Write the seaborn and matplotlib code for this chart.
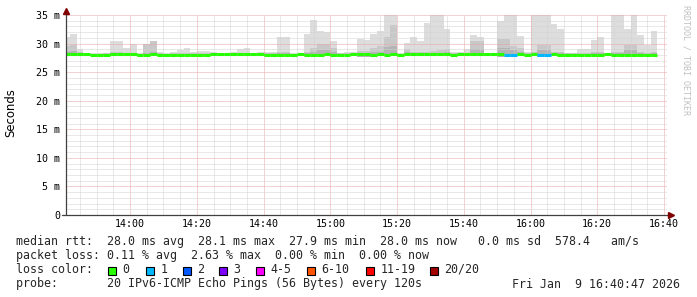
import numpy as np
import pandas as pd
import matplotlib
matplotlib.use("Agg")
import matplotlib.pyplot as plt
import seaborn as sns
from matplotlib.patches import Rectangle

# ---------------- data ----------------
# 2-minute smokeping bins, first bin starts 13:40 (minutes since midnight)
bin_step_min = 2
first_bin_min = 13 * 60 + 40
view_start_min = 13 * 60 + 40 + 47 / 60
view_end_min = 16 * 60 + 40 + 47 / 60

smoke_max = [31.1, 31.7, 29.0, 28.4, 28.3, 28.3, 28.4, 30.5, 30.5, 29.3,
             29.9, 28.3, 29.9, 30.5, 28.6, 28.3, 28.5, 28.9, 29.3, 28.6,
             28.7, 28.7, 28.6, 28.4, 28.4, 28.6, 29.0, 29.3, 28.4, 28.6,
             28.6, 28.6, 31.2, 31.1, 28.3, 28.4, 31.7, 34.1, 32.2, 32.0,
             30.5, 28.4, 28.5, 28.6, 30.8, 30.7, 31.6, 32.2, 35.5, 35.8,
             28.3, 30.1, 31.1, 30.5, 33.6, 36.0, 35.4, 32.6, 28.6, 28.5,
             29.0, 31.5, 31.1, 28.3, 28.4, 33.9, 36.5, 35.3, 31.3, 28.5,
             35.6, 37.0, 35.2, 33.4, 32.5, 28.4, 28.4, 29.0, 29.0, 30.6,
             31.2, 28.4, 35.4, 36.2, 32.6, 35.3, 31.5, 29.8, 32.2]
smoke_mid = [29.5, 29.7, 28.6, 28.3, 28.2, 28.2, 28.3, 28.5, 28.5, 28.3,
             28.4, 28.2, 29.9, 30.5, 28.3, 28.2, 28.3, 28.4, 28.4, 28.3,
             28.3, 28.3, 28.3, 28.3, 28.3, 28.3, 28.4, 28.4, 28.3, 28.3,
             28.3, 28.3, 28.5, 28.5, 28.2, 28.3, 28.5, 29.3, 30.0, 30.0,
             29.3, 28.3, 28.3, 28.3, 28.7, 28.7, 29.3, 29.5, 31.2, 33.3,
             28.2, 29.1, 28.6, 28.6, 28.5, 28.7, 28.9, 29.0, 28.3, 28.3,
             28.4, 30.5, 30.5, 28.2, 28.3, 30.8, 30.8, 29.5, 29.3, 28.3,
             28.6, 29.7, 29.7, 28.6, 28.5, 28.3, 28.3, 28.4, 28.4, 28.5,
             28.5, 28.3, 28.6, 28.6, 29.7, 29.7, 28.5, 28.4, 28.5]
smoke_dark = [28.6, 28.7, 28.3, 28.2, 28.2, 28.2, 28.2, 28.3, 28.3, 28.2,
              28.2, 28.2, 28.4, 28.5, 28.2, 28.2, 28.2, 28.2, 28.2, 28.2,
              28.2, 28.2, 28.2, 28.2, 28.2, 28.2, 28.2, 28.2, 28.2, 28.2,
              28.2, 28.2, 28.3, 28.3, 28.2, 28.2, 28.3, 28.5, 28.8, 28.8,
              28.5, 28.2, 28.2, 28.2, 28.4, 28.4, 28.6, 28.6, 29.4, 29.6,
              28.2, 28.5, 28.3, 28.3, 28.3, 28.4, 28.4, 28.5, 28.2, 28.2,
              28.2, 29.0, 29.0, 28.2, 28.2, 29.2, 29.3, 28.8, 28.6, 28.2,
              28.3, 28.9, 28.9, 28.3, 28.3, 28.2, 28.2, 28.2, 28.2, 28.3,
              28.3, 28.2, 28.3, 28.3, 28.8, 28.8, 28.3, 28.2, 28.3]
smoke_min = [27.8, 27.8, 27.8, 27.8, 27.8, 27.8, 27.8, 27.8, 27.8, 27.8,
             27.8, 27.7, 27.8, 27.8, 27.8, 27.8, 27.8, 27.8, 27.8, 27.8,
             27.8, 27.8, 27.8, 27.8, 27.8, 27.8, 27.8, 27.8, 27.8, 27.8,
             27.8, 27.8, 27.8, 27.8, 27.8, 27.8, 27.8, 27.8, 27.8, 27.8,
             27.8, 27.8, 27.8, 27.8, 27.7, 27.7, 27.7, 27.8, 27.8, 27.8,
             27.8, 27.8, 27.8, 27.8, 27.8, 27.8, 27.8, 27.8, 27.8, 27.8,
             27.8, 27.8, 27.8, 27.8, 27.8, 27.7, 27.7, 27.7, 27.8, 27.8,
             27.8, 27.7, 27.7, 27.8, 27.8, 27.8, 27.8, 27.8, 27.8, 27.8,
             27.8, 27.8, 27.8, 27.8, 27.8, 27.8, 27.8, 27.8, 27.8]
median_rtt = [28.15, 28.15, 28.15, 28.15, 27.95, 27.95, 27.95, 28.15, 28.15, 28.15,
              28.15, 27.95, 27.95, 28.15, 27.95, 27.95, 27.95, 27.95, 27.95, 27.95,
              27.95, 27.95, 28.15, 28.15, 28.15, 28.15, 28.15, 28.15, 28.15, 28.15,
              27.95, 27.95, 27.95, 27.95, 27.95, 28.15, 27.95, 27.95, 27.95, 28.15,
              27.95, 27.95, 27.95, 28.15, 28.15, 28.15, 27.95, 28.15, 27.95, 28.15,
              28.05, 28.15, 28.15, 28.15, 28.15, 28.15, 28.15, 28.15, 27.95, 28.10,
              28.10, 28.10, 28.10, 28.10, 28.10, 28.10, 27.95, 27.95, 28.15, 27.95,
              28.15, 27.95, 27.95, 28.15, 27.95, 27.95, 27.95, 27.95, 27.95, 27.95,
              27.95, 28.10, 27.95, 27.95, 27.95, 27.95, 28.05, 28.05, 28.05]
loss_count = [0] * 66 + [1, 1, 0, 0, 0, 1, 1] + [0] * 16

y_ticks = [0, 5, 10, 15, 20, 25, 30, 35]
y_tick_labels = ["0", "5 m", "10 m", "15 m", "20 m", "25 m", "30 m", "35 m"]
x_ticks = [14 * 60, 14 * 60 + 20, 14 * 60 + 40, 15 * 60, 15 * 60 + 20,
           15 * 60 + 40, 16 * 60, 16 * 60 + 20, 16 * 60 + 40]
x_tick_labels = ["14:00", "14:20", "14:40", "15:00", "15:20", "15:40",
                 "16:00", "16:20", "16:40"]

legend_labels = ["0", "1", "2", "3", "4-5", "6-10", "11-19", "20/20"]
legend_colors = ["#26ff00", "#00b8ff", "#0059ff", "#7e00ff", "#ff00ff",
                 "#ff5500", "#ff0000", "#a00000"]
loss_palette = {0: "#26ff00", 1: "#00b8ff"}

line_rtt = "median rtt:  28.0 ms avg  28.1 ms max  27.9 ms min  28.0 ms now   0.0 ms sd  578.4   am/s"
line_loss = "packet loss: 0.11 % avg  2.63 % max  0.00 % min  0.00 % now"
line_color = "loss color:"
line_probe = "probe:       20 IPv6-ICMP Echo Pings (56 Bytes) every 120s"
date_text = "Fri Jan  9 16:40:47 2026"
watermark = "RRDTOOL / TOBI OETIKER"
y_label = "Seconds"

# ---------------- figure ----------------
sns.set_theme(style="white")
plt.rcParams["font.family"] = ["DejaVu Sans Mono", "DejaVu Sans"]

W, H = 697, 297
fig = plt.figure(figsize=(W / 100, H / 100), dpi=100)
fig.patch.set_facecolor("white")

ax_left, ax_right, ax_top, ax_bottom = 66, 666.6, 15, 215
ax = fig.add_axes([ax_left / W, 1 - ax_bottom / H,
                   (ax_right - ax_left) / W, (ax_bottom - ax_top) / H])
ax.set_facecolor("white")

n = len(smoke_max)
edges = first_bin_min + bin_step_min * np.arange(n + 1)

ax.stairs(smoke_max, edges, baseline=smoke_min, fill=True,
          color="#dddddd", lw=0, zorder=1)
ax.stairs(smoke_mid, edges, baseline=smoke_min, fill=True,
          color="#c8c8c8", lw=0, zorder=1.1)
ax.stairs(smoke_dark, edges, baseline=smoke_min, fill=True,
          color="#b4b4b4", lw=0, zorder=1.2)

# median rtt: one flat segment per 2-minute bin, coloured by loss count
rows = []
for i in range(n):
    rows.append({"t": edges[i], "rtt": median_rtt[i], "bin": i, "loss": loss_count[i]})
    rows.append({"t": edges[i + 1], "rtt": median_rtt[i], "bin": i, "loss": loss_count[i]})
df = pd.DataFrame(rows)
sns.lineplot(data=df, x="t", y="rtt", units="bin", estimator=None,
             hue="loss", palette=loss_palette, legend=False,
             lw=2.2, solid_capstyle="butt", ax=ax, zorder=4)

ax.set_xlim(view_start_min, view_end_min)
ax.set_ylim(0, 35)
ax.set_xlabel("")
ax.set_ylabel("")

ax.set_xticks(x_ticks, x_tick_labels)
ax.set_xticks(np.arange(13 * 60 + 45, view_end_min, 5), minor=True)
ax.set_yticks(y_ticks, y_tick_labels)
ax.set_yticks(np.arange(0, 36, 1), minor=True)

ax.set_axisbelow(False)
ax.grid(which="minor", color="#d2d2d2", linestyle=(0, (1, 1)), lw=0.72, zorder=2)
ax.grid(which="major", color="#eaa6a6", linestyle=(0, (1, 1)), lw=0.72, zorder=2.1)

for lab in ax.get_xticklabels() + ax.get_yticklabels():
    lab.set_fontsize(7.2)
    lab.set_family("DejaVu Sans Mono")
    lab.set_color("#000000")
ax.tick_params(axis="both", which="major", length=2.2, width=0.72,
               color="#404040", direction="out")
ax.tick_params(axis="x", which="major", pad=1.0)
ax.tick_params(axis="y", which="major", pad=2.2)
ax.tick_params(axis="both", which="minor", length=1.2, width=0.72,
               color="#404040", direction="out")
for s in ax.spines.values():
    s.set_visible(False)

# axis lines with arrows
axis_col = "#404040"
arrow_col = "#800000"
ax.plot([0, 0], [0, 1 + 6 / 200], transform=ax.transAxes, color=axis_col,
        lw=0.9, clip_on=False, zorder=6)
ax.plot([-0.006, (672 - ax_left) / (ax_right - ax_left)], [0, 0],
        transform=ax.transAxes, color=axis_col, lw=0.9, clip_on=False, zorder=6)
ax.plot([0], [1 + 4 / 200], marker="^", ms=4.2, color=arrow_col,
        transform=ax.transAxes, clip_on=False, zorder=7)
ax.plot([(671 - ax_left) / (ax_right - ax_left)], [0], marker=">", ms=4.2,
        color=arrow_col, transform=ax.transAxes, clip_on=False, zorder=7)

# labels
fig.text(11 / W, 1 - 113 / H, y_label, rotation=90, ha="center", va="center",
         fontsize=8.4, family="DejaVu Sans", color="#000000")
fig.text(686 / W, 1 - 5 / H, watermark, rotation=270, ha="center", va="top",
         fontsize=6.0, family="DejaVu Sans Mono", color="#c0c0c0")

leg_fs = 8.4
x0 = 16 / W
fig.text(x0, 1 - 245 / H, line_rtt, fontsize=leg_fs, va="baseline",
         family="DejaVu Sans Mono")
fig.text(x0, 1 - 259 / H, line_loss, fontsize=leg_fs, va="baseline",
         family="DejaVu Sans Mono")
fig.text(x0, 1 - 273 / H, line_color, fontsize=leg_fs, va="baseline",
         family="DejaVu Sans Mono")
fig.text(x0, 1 - 287.5 / H, line_probe, fontsize=leg_fs, va="baseline",
         family="DejaVu Sans Mono")
fig.text(680 / W, 1 - 287.5 / H, date_text, fontsize=leg_fs, va="baseline",
         ha="right", family="DejaVu Sans Mono")

box_x = [108, 146, 183, 219, 256, 307, 366, 430]
for bx, lab, col in zip(box_x, legend_labels, legend_colors):
    fig.patches.append(Rectangle((bx / W, 1 - 274.5 / H), 7.5 / W, 7.5 / H,
                                 transform=fig.transFigure, facecolor=col,
                                 edgecolor="#000000", lw=0.8))
    fig.text((bx + 14.5) / W, 1 - 273 / H, lab, fontsize=leg_fs, va="baseline",
             family="DejaVu Sans Mono")

fig.savefig("out.png", dpi=100, facecolor="white")
